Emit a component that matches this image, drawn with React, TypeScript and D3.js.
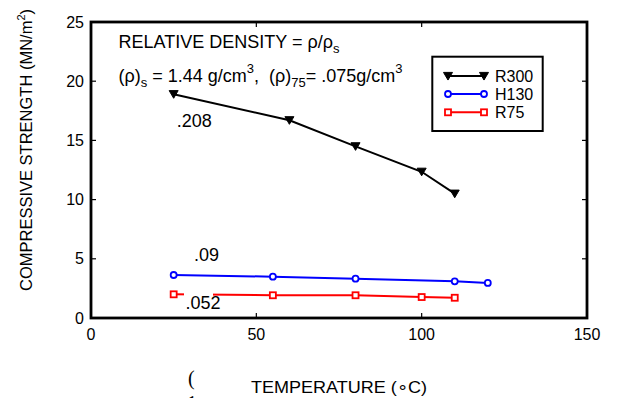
import React from 'react';
import * as d3 from 'd3';

const tempsR300 = [25, 60, 80, 100, 110];
const strengthR300 = [18.9, 16.7, 14.5, 12.35, 10.5];
const tempsH130 = [25, 55, 80, 110, 120];
const strengthH130 = [3.63, 3.49, 3.32, 3.1, 2.96];
const tempsR75 = [25, 55, 80, 100, 110];
const strengthR75 = [2.0, 1.92, 1.92, 1.77, 1.71];
const xTicks = [0, 50, 100, 150];
const yTicks = [0, 5, 10, 15, 20, 25];
const seriesNames = ['R300', 'H130', 'R75'];
const seriesColors = ['#000000', '#0000ff', '#ff0000'];

const W = 623, H = 398;
const L = 91, R = 587, T = 22, B = 318;
const FONT = 'Liberation Sans, Arial, sans-serif';

type Pt = [number, number];

function Marker({ kind, x, y, color }: { kind: number; x: number; y: number; color: string }) {
  if (kind === 0) {
    const s = 4.5;
    return <path d={`M${x - s},${y - s * 0.8} L${x + s},${y - s * 0.8} L${x},${y + s * 0.9} Z`} fill={color} stroke={color} strokeWidth={1} />;
  }
  if (kind === 1) {
    return <circle cx={x} cy={y} r={3} fill="white" stroke={color} strokeWidth={1.8} />;
  }
  return <rect x={x - 3} y={y - 3} width={6} height={6} fill="white" stroke={color} strokeWidth={1.8} />;
}

export default function App() {
  const x = d3.scaleLinear().domain([0, 150]).range([L, R]);
  const y = d3.scaleLinear().domain([0, 25]).range([B, T]);
  const line = d3.line<Pt>().x(d => x(d[0])).y(d => y(d[1]));

  const series: Pt[][] = [
    tempsR300.map((t, i) => [t, strengthR300[i]] as Pt),
    tempsH130.map((t, i) => [t, strengthH130[i]] as Pt),
    tempsR75.map((t, i) => [t, strengthR75[i]] as Pt),
  ];

  const tickLen = 5;
  const legX0 = 448, legX1 = 484, legYs = [76, 94, 112.3];

  return (
    <svg width={W} height={H} style={{ position: 'absolute', left: 0, top: 0, background: 'white' }} fontFamily={FONT}>
      <rect x={0} y={0} width={W} height={H} fill="white" />
      {series.map((pts, si) => (
        <g key={si}>
          <path d={line(pts) || ''} fill="none" stroke={seriesColors[si]} strokeWidth={2} />
          {si === 2 && <rect x={184} y={290} width={29} height={7} fill="white" />}
          {pts.map((p, i) => (
            <Marker key={i} kind={si} x={x(p[0])} y={y(p[1])} color={seriesColors[si]} />
          ))}
        </g>
      ))}
      <rect x={L} y={T} width={R - L} height={B - T} fill="none" stroke="black" strokeWidth={2.8} />
      {xTicks.map(t => (
        <g key={'x' + t}>
          <line x1={x(t)} x2={x(t)} y1={B} y2={B - tickLen} stroke="black" strokeWidth={1.2} />
          <line x1={x(t)} x2={x(t)} y1={T} y2={T + tickLen} stroke="black" strokeWidth={1.2} />
          <text x={x(t)} y={340} fontSize={16} textAnchor="middle">{t}</text>
        </g>
      ))}
      {yTicks.map(t => (
        <g key={'y' + t}>
          <line x1={L} x2={L + tickLen} y1={y(t)} y2={y(t)} stroke="black" strokeWidth={1.2} />
          <line x1={R} x2={R - tickLen} y1={y(t)} y2={y(t)} stroke="black" strokeWidth={1.2} />
          <text x={84} y={y(t)} dy="0.35em" fontSize={16} textAnchor="end">{t}</text>
        </g>
      ))}
      <text x={118.5} y={48.3} fontSize={18}>
        RELATIVE DENSITY = ρ/ρ<tspan fontSize={13} dy={5}>s</tspan>
      </text>
      <text x={118.5} y={81.7} fontSize={18}>
        (ρ)<tspan fontSize={13} dy={5}>s</tspan><tspan dy={-5}>{'\u00a0= 1.44 g/cm'}</tspan><tspan fontSize={13} dy={-9}>3</tspan><tspan dy={9}>{',\u00a0\u00a0(ρ)'}</tspan><tspan fontSize={13} dy={5}>75</tspan><tspan dy={-5}>= .075g/cm</tspan><tspan fontSize={13} dy={-9}>3</tspan>
      </text>
      <text x={176.7} y={126.7} fontSize={18}>.208</text>
      <text x={194} y={260.5} fontSize={18}>.09</text>
      <text x={185.5} y={309} fontSize={18}>.052</text>
      <rect x={432.3} y={56.7} width={110.4} height={74.3} fill="white" stroke="black" strokeWidth={2} />
      {seriesNames.map((n, i) => (
        <g key={n}>
          <line x1={legX0} x2={legX1} y1={legYs[i]} y2={legYs[i]} stroke={seriesColors[i]} strokeWidth={2} />
          <Marker kind={i} x={legX0} y={legYs[i]} color={seriesColors[i]} />
          <Marker kind={i} x={legX1} y={legYs[i]} color={seriesColors[i]} />
          <text x={495} y={legYs[i] + 6} fontSize={16}>{n}</text>
        </g>
      ))}
      <text x={251} y={392.5} fontSize={16} textLength={176} lengthAdjust="spacingAndGlyphs">TEMPERATURE (∘C)</text>
      <text transform="translate(32.3,150) rotate(-90)" fontSize={16.5} textAnchor="middle">
        COMPRESSIVE STRENGTH (MN/m<tspan fontSize={11} dy={-7}>2</tspan><tspan dy={7}>)</tspan>
      </text>
      <text x={188} y={385} fontSize={20} fontFamily="Liberation Serif, Times New Roman, serif">(</text>
      <text x={187} y={410} fontSize={20} fontFamily="Liberation Serif, Times New Roman, serif">1</text>
    </svg>
  );
}
